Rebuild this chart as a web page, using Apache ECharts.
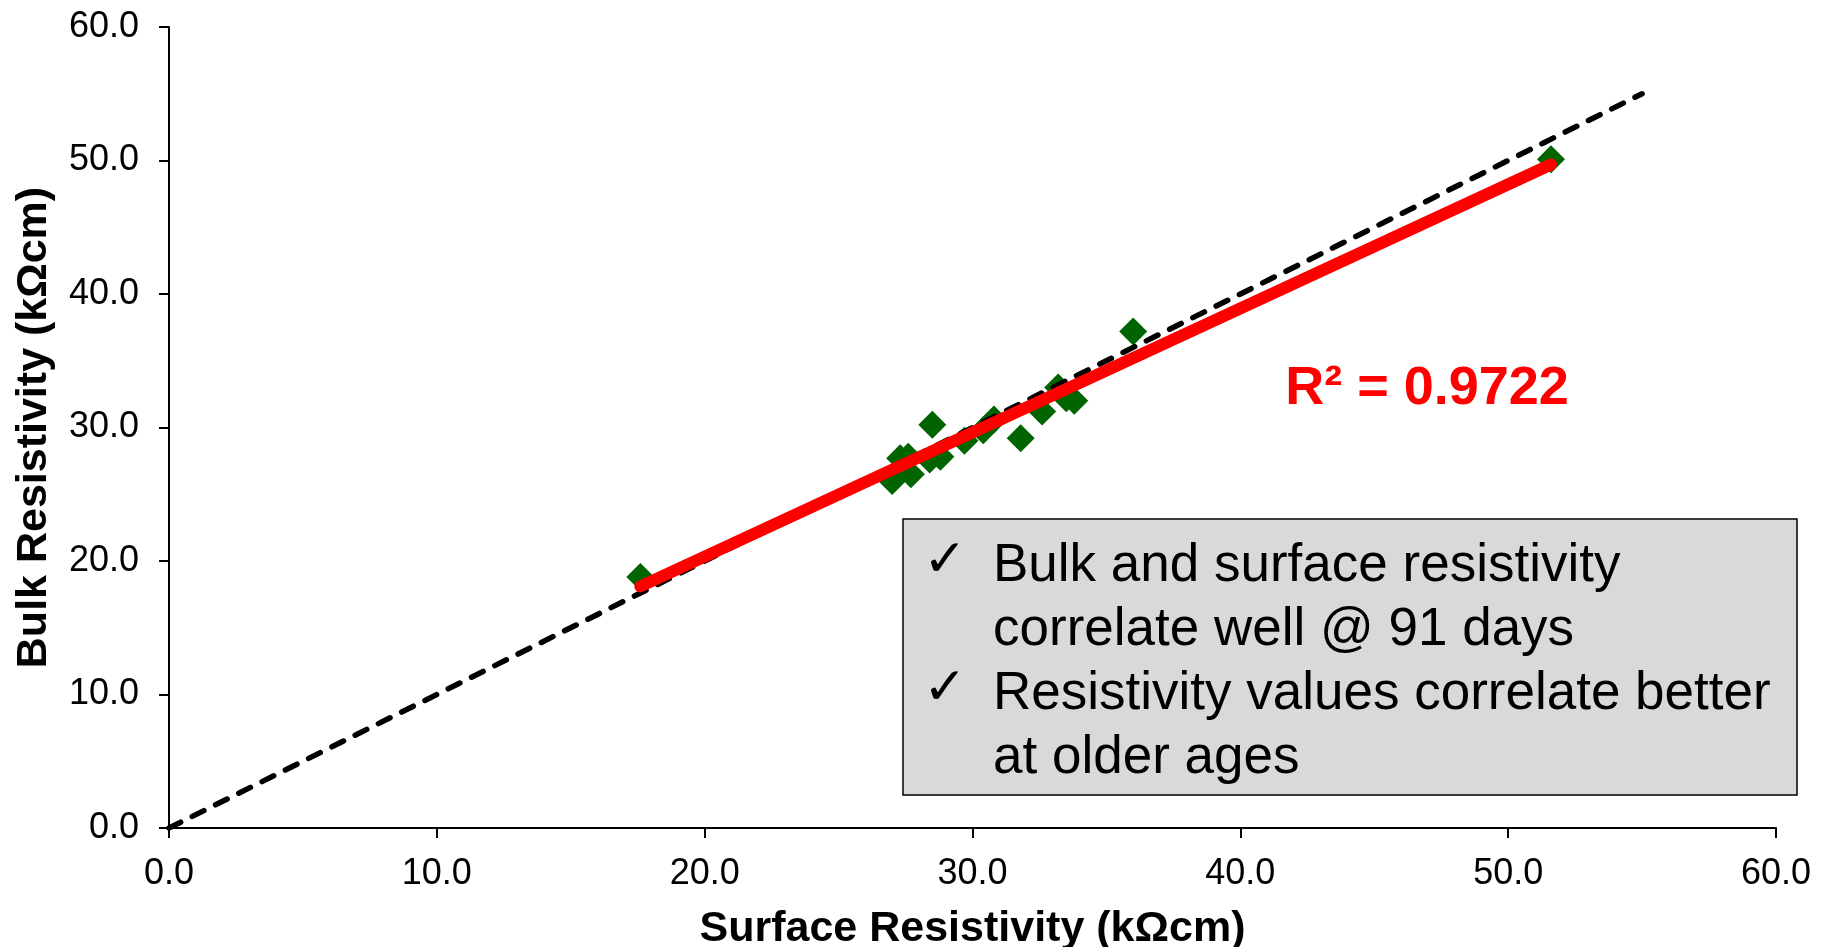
<!DOCTYPE html>
<html>
<head>
<meta charset="utf-8">
<script src="https://cdn.jsdelivr.net/npm/echarts@6/dist/echarts.min.js"></script>
<style>
html,body{margin:0;padding:0;background:#fff;}
#chart{width:1826px;height:947px;}
</style>
</head>
<body>
<div id="chart"></div>
<script>
// Data
var surfaceResistivity = [17.6, 27.0, 27.3, 27.6, 27.7, 28.4, 28.5, 28.8, 29.7, 30.4, 30.8, 31.8, 32.6, 33.2, 33.5, 33.8, 36.0, 51.6];
var bulkResistivity    = [18.8, 26.0, 27.7, 27.8, 26.5, 27.6, 30.2, 27.8, 29.0, 29.8, 30.6, 29.2, 31.2, 33.0, 32.2, 32.0, 37.2, 50.1];
var equalityX = [0, 55];
var equalityY = [0, 55];
var trendX = [17.6, 51.6];
var trendY = [18.1, 49.7];
var xAxisTitle = 'Surface Resistivity (kΩcm)';
var yAxisTitle = 'Bulk Resistivity (kΩcm)';
var r2Label = 'R² = 0.9722';
var noteLines = [
  ['Bulk and surface resistivity', 'correlate well @ 91 days'],
  ['Resistivity values correlate better', 'at older ages']
];
var checkGlyph = '✓';

function pairs(xs, ys){ return xs.map(function(x,i){ return [x, ys[i]]; }); }

var FONT = "'Liberation Sans', Arial, sans-serif";
var chart = echarts.init(document.getElementById('chart'));

// notes box graphic
var boxLeft = 903, boxTop = 519, boxW = 894, boxH = 276;
var lineH = 64, firstMid = 566;
var graphics = [{
  type: 'rect', z: 10,
  shape: {x: boxLeft, y: boxTop, width: boxW, height: boxH},
  style: {fill: '#D9D9D9', stroke: '#000', lineWidth: 1.5}
}];
var row = 0;
noteLines.forEach(function(group){
  graphics.push({
    type: 'text', z: 11,
    style: {x: 945, y: firstMid - 4 + row*lineH, text: checkGlyph, fill: '#000',
      font: "52px 'DejaVu Sans', sans-serif", align: 'center', verticalAlign: 'middle'}
  });
  group.forEach(function(t){
    graphics.push({
      type: 'text', z: 11,
      style: {x: 993, y: firstMid + row*lineH, text: t, fill: '#000',
        font: "53px " + FONT, align: 'left', verticalAlign: 'middle'}
    });
    row++;
  });
});
graphics.push({
  type: 'text', z: 11,
  style: {x: 1427, y: 389, text: r2Label, fill: '#FF0000',
    font: "bold 54px " + FONT, align: 'center', verticalAlign: 'middle'}
});

var axisCommon = {
  type: 'value', min: 0, max: 60, interval: 10,
  nameLocation: 'middle',
  nameTextStyle: {fontFamily: FONT, fontWeight: 'bold', fontSize: 43, color: '#000'},
  axisLine: {show: true, onZero: false, lineStyle: {color: '#000', width: 2}},
  axisTick: {show: true, inside: false, length: 10, lineStyle: {color: '#000', width: 2}},
  splitLine: {show: false},
  axisLabel: {fontFamily: FONT, fontSize: 36, color: '#000',
    formatter: function(v){ return v.toFixed(1); }}
};

var option = {
  backgroundColor: '#fff',
  animation: false,
  grid: {left: 169, right: 50, top: 27, bottom: 119, containLabel: false, outerBoundsMode: 'none'},
  xAxis: Object.assign({}, axisCommon, {
    name: xAxisTitle, nameGap: 80,
    axisLabel: Object.assign({}, axisCommon.axisLabel, {margin: 28})
  }),
  yAxis: Object.assign({}, axisCommon, {
    name: yAxisTitle, nameGap: 113,
    axisLabel: Object.assign({}, axisCommon.axisLabel, {margin: 30})
  }),
  series: [
    {
      type: 'scatter', z: 2,
      symbol: 'diamond', symbolSize: 28,
      itemStyle: {color: '#006400', opacity: 1},
      emphasis: {disabled: true},
      data: pairs(surfaceResistivity, bulkResistivity)
    },
    {
      type: 'line', z: 3, showSymbol: false, symbol: 'none',
      lineStyle: {color: '#000', width: 5.5, type: [13, 13], cap: 'round'},
      data: pairs(equalityX, equalityY)
    },
    {
      type: 'line', z: 4, showSymbol: false, symbol: 'none',
      lineStyle: {color: '#FF0000', width: 12, cap: 'round'},
      data: pairs(trendX, trendY)
    }
  ],
  graphic: graphics
};
chart.setOption(option);
</script>
</body>
</html>
